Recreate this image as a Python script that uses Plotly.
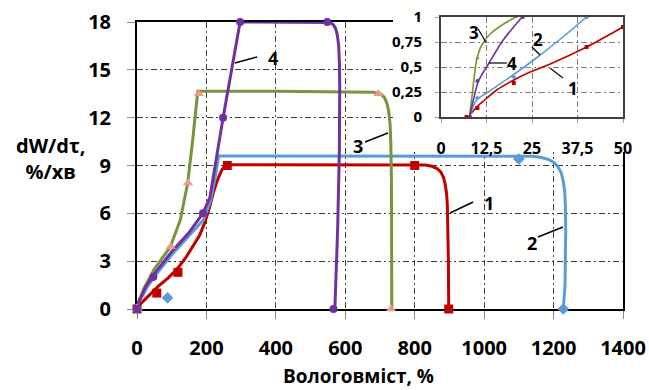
import plotly.graph_objects as go

# ---------------- data ----------------
# main chart: smoothed curves
c1_x = [0, 20, 40, 60, 90, 115, 140, 160, 180, 195, 208, 220, 232, 245, 255, 265, 500, 800, 830, 850, 865, 875, 883, 888, 892, 894, 896, 897, 898]
c1_y = [0.1, 0.55, 1.0, 1.4, 1.95, 2.5, 3.2, 3.9, 4.6, 5.4, 6.3, 7.3, 8.1, 8.75, 9.0, 9.05, 9.05, 9.05, 9.03, 8.95, 8.8, 8.6, 8.25, 7.8, 7.2, 6.5, 5.0, 3.0, 0]
c2_x = [0, 30, 60, 100, 150, 192, 212, 225, 235, 600, 1100, 1140, 1165, 1185, 1200, 1212, 1222, 1228, 1232, 1234, 1235, 1235, 1233, 1228]
c2_y = [0.2, 1.4, 2.3, 3.4, 4.6, 5.6, 6.8, 8.2, 9.6, 9.6, 9.6, 9.58, 9.5, 9.38, 9.2, 8.95, 8.55, 8.0, 7.4, 6.5, 5.0, 3.0, 1.5, 0]
c3_x = [0, 20, 50, 96, 125, 146, 160, 175, 400, 680, 700, 712, 720, 725, 729, 731, 733, 734, 734]
c3_y = [0.2, 1.3, 2.5, 3.9, 5.6, 7.9, 10.5, 13.65, 13.65, 13.6, 13.5, 13.3, 12.9, 12.4, 11.6, 10.5, 8.0, 4.0, 0]
c4_x = [0, 25, 50, 100, 150, 190, 210, 248, 297, 400, 540, 555, 565, 572, 577, 581, 583, 584, 583, 578, 570]
c4_y = [0.2, 1.4, 2.2, 3.6, 4.8, 6.0, 7.0, 12.0, 18, 18, 18, 17.97, 17.85, 17.6, 17.2, 16.5, 15.5, 14.0, 10.0, 5.0, 0]

# main chart: measured points
m1_x = [0, 57, 118, 260, 800, 898]
m1_y = [0, 1.0, 2.3, 9.0, 9.0, 0]
m2_x = [0, 88, 1100, 1228]
m2_y = [0, 0.7, 9.4, 0]
m3_x = [0, 97, 147, 178, 695, 732]
m3_y = [0, 3.9, 7.9, 13.5, 13.5, 0]
m4_x = [0, 47, 190, 248, 297, 548, 566]
m4_y = [0, 2.0, 6.0, 12.0, 18, 18, 0]

# inset chart
i1_x = [7.5, 9.8, 12, 15.3, 20, 24.5, 30, 40, 50]
i1_y = [0, 0.10, 0.17, 0.27, 0.37, 0.45, 0.53, 0.70, 0.90]
i2_x = [7.8, 9.8, 12.5, 19.8, 26.2, 33.5, 40]
i2_y = [0, 0.17, 0.24, 0.42, 0.59, 0.80, 1.0]
i3_x = [7.8, 8.4, 9.8, 11.2, 13.5, 17.2, 20.6]
i3_y = [0, 0.17, 0.57, 0.72, 0.83, 0.93, 1.0]
i4_x = [7.8, 8.9, 10.3, 13.2, 17.1, 22.3]
i4_y = [0, 0.17, 0.36, 0.54, 0.77, 1.0]

im1_x = [7, 10, 20, 40, 50]
im1_y = [0, 0.09, 0.34, 0.70, 0.90]
im2_x = [10, 20, 40]
im2_y = [0.19, 0.40, 1.0]
im3_x = [10, 20.5]
im3_y = [0.59, 1.0]
im4_x = [8, 10, 22.5]
im4_y = [0, 0.36, 1.0]

x_ticks = [0, 200, 400, 600, 800, 1000, 1200, 1400]
y_ticks = [0, 3, 6, 9, 12, 15, 18]
ix_ticks = [0, 12.5, 25, 37.5, 50]
ix_text = ["0", "12,5", "25", "37,5", "50"]
iy_ticks = [0, 0.25, 0.5, 0.75, 1]
iy_text = ["0", "0,25", "0,5", "0,75", "1"]

x_title = "Вологовміст, %"
y_title = "dW/dτ,<br>%/хв"

# curve labels: (text, label x, label y, leader x0, y0, x1, y1)
main_labels = [
    ("4", 392, 15.75, 282, 15.43, 346, 15.81),
    ("3", 637, 10.2, 657, 10.48, 723, 11.04),
    ("1", 1014, 6.65, 902, 6.02, 968, 6.71),
    ("2", 1138, 4.14, 1155, 4.52, 1227, 5.14),
]
inset_labels = [
    ("3", 9.1, 0.84, 10.2, 0.88, 12.3, 0.75),
    ("2", 26.6, 0.77, 25.0, 0.70, 27.2, 0.62),
    ("4", 19.5, 0.53, 13.2, 0.54, 18.1, 0.54),
    ("1", 36.3, 0.28, 29.9, 0.49, 33.5, 0.39),
]

RED = "#C00000"
BLUE = "#5B9BD5"
GREEN = "#77933C"
PURPLE = "#7030A0"
TRI = "#EE9A88"

FONT = "Open Sans"
W, H = 649, 390

def px_x(a, b):
    return [a / W, b / W]

def px_y(top, bottom):
    return [(H - bottom) / H, (H - top) / H]

fig = go.Figure()

# ---- main traces ----
for cx, cy, col in [(c1_x, c1_y, RED), (c2_x, c2_y, BLUE), (c3_x, c3_y, GREEN), (c4_x, c4_y, PURPLE)]:
    fig.add_trace(go.Scatter(x=cx, y=cy, mode="lines",
                             line=dict(color=col, width=3),
                             showlegend=False, hoverinfo="skip"))
for mx, my, col, sym, sz in [(m1_x, m1_y, RED, "square", 9), (m2_x, m2_y, BLUE, "diamond", 9),
                             (m3_x, m3_y, TRI, "triangle-up", 9), (m4_x, m4_y, PURPLE, "circle", 8)]:
    fig.add_trace(go.Scatter(x=mx, y=my, mode="markers", cliponaxis=False,
                             marker=dict(color=col, symbol=sym, size=sz, line=dict(width=0)),
                             showlegend=False, hoverinfo="skip"))

# ---- cover subplot (white box behind inset) ----
fig.add_trace(go.Scatter(x=[0], y=[0], xaxis="x2", yaxis="y2", mode="markers",
                         marker=dict(opacity=0), showlegend=False, hoverinfo="skip"))

# ---- inset traces ----
for cx, cy, col in [(i1_x, i1_y, RED), (i2_x, i2_y, BLUE), (i3_x, i3_y, GREEN), (i4_x, i4_y, PURPLE)]:
    fig.add_trace(go.Scatter(x=cx, y=cy, mode="lines", xaxis="x3", yaxis="y3",
                             line=dict(color=col, width=1.6, shape="spline", smoothing=0.8),
                             showlegend=False, hoverinfo="skip"))
for mx, my, col, sym in [(im1_x, im1_y, RED, "square"), (im2_x, im2_y, BLUE, "diamond"),
                         (im3_x, im3_y, GREEN, "triangle-up"), (im4_x, im4_y, PURPLE, "circle")]:
    fig.add_trace(go.Scatter(x=mx, y=my, mode="markers", xaxis="x3", yaxis="y3", cliponaxis=False,
                             marker=dict(color=col, symbol=sym, size=4, line=dict(width=0)),
                             showlegend=False, hoverinfo="skip"))

# leader lines
for t, lx, ly, x0, y0, x1, y1 in main_labels:
    fig.add_trace(go.Scatter(x=[x0, x1], y=[y0, y1], mode="lines",
                             line=dict(color="black", width=1.6), showlegend=False, hoverinfo="skip"))
for t, lx, ly, x0, y0, x1, y1 in inset_labels:
    fig.add_trace(go.Scatter(x=[x0, x1], y=[y0, y1], mode="lines", xaxis="x3", yaxis="y3",
                             line=dict(color="black", width=1.2), showlegend=False, hoverinfo="skip"))

annotations = []
for t, lx, ly, *_ in main_labels:
    annotations.append(dict(x=lx, y=ly, xref="x", yref="y", text=t, showarrow=False,
                            font=dict(family=FONT, size=18, color="black", weight="bold")))
for t, lx, ly, *_ in inset_labels:
    annotations.append(dict(x=lx, y=ly, xref="x3", yref="y3", text=t, showarrow=False,
                            font=dict(family=FONT, size=17, color="black", weight="bold")))
annotations.append(dict(x=50 / W, y=(H - 158) / H, xref="paper", yref="paper", text=y_title,
                        showarrow=False, xanchor="center", yanchor="middle", align="center",
                        font=dict(family=FONT, size=20, color="black", weight="bold")))
annotations.append(dict(x=358 / W, y=(H - 376) / H, xref="paper", yref="paper", text=x_title,
                        showarrow=False, xanchor="center", yanchor="middle",
                        font=dict(family=FONT, size=19, color="black", weight="bold")))

GRID = "#404040"
DASH = "6px,3px,2px,3px"

fig.update_layout(
    width=W, height=H,
    margin=dict(l=0, r=0, t=0, b=0, autoexpand=False),
    paper_bgcolor="white",
    plot_bgcolor="#fffffe",
    font=dict(family=FONT, color="black"),
    annotations=annotations,
    xaxis=dict(domain=px_x(137, 623), range=[0, 1400], tickvals=x_ticks, automargin=False,
               showline=True, linecolor="black", linewidth=2, mirror=True,
               ticks="outside", ticklen=8, tickcolor="#888", tickwidth=1,
               showgrid=True, gridcolor=GRID, gridwidth=1, griddash=DASH, zeroline=False,
               tickfont=dict(family=FONT, size=20, color="black", weight="bold"),
               ticklabelstandoff=12, layer="below traces"),
    yaxis=dict(domain=px_y(22, 309), range=[0, 18], tickvals=y_ticks, automargin=False,
               showline=True, linecolor="black", linewidth=2, mirror=True,
               ticks="outside", ticklen=8, tickcolor="#888", tickwidth=1,
               showgrid=True, gridcolor=GRID, gridwidth=1, griddash=DASH, zeroline=False,
               tickfont=dict(family=FONT, size=20, color="black", weight="bold"),
               ticklabelstandoff=12, layer="below traces"),
    xaxis2=dict(domain=px_x(393, 645), range=[0, 1], visible=False, anchor="y2", automargin=False),
    yaxis2=dict(domain=px_y(0, 152), range=[0, 1], visible=False, anchor="x2", automargin=False),
    xaxis3=dict(domain=px_x(441, 623), range=[0, 50], tickvals=ix_ticks, ticktext=ix_text,
                anchor="y3", showline=True, linecolor="#404040", linewidth=2, mirror=True,
                automargin=False,
                ticks="outside", ticklen=4, tickcolor="#999",
                showgrid=True, gridcolor="#808080", gridwidth=1, griddash=DASH, zeroline=False,
                tickfont=dict(family=FONT, size=16, color="black", weight="bold"),
                ticklabelstandoff=12),
    yaxis3=dict(domain=px_y(17, 117), range=[0, 1], tickvals=iy_ticks, ticktext=iy_text,
                anchor="x3", showline=True, linecolor="#404040", linewidth=2, mirror=True,
                automargin=False,
                ticks="outside", ticklen=4, tickcolor="#999",
                showgrid=True, gridcolor="#808080", gridwidth=1, griddash=DASH, zeroline=False,
                tickfont=dict(family=FONT, size=15, color="black", weight="bold"),
                ticklabelstandoff=10),
)

fig.write_html("out.html")
